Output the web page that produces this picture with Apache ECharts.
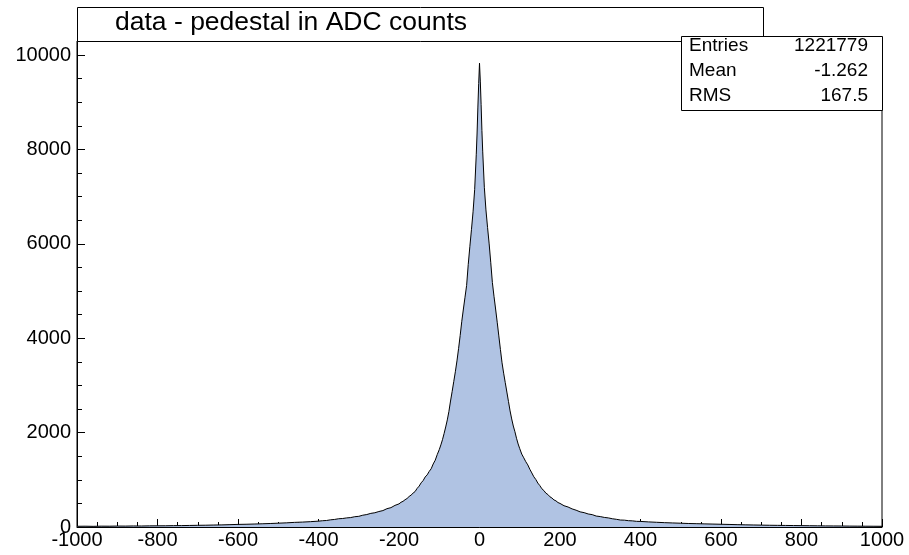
<!DOCTYPE html>
<html>
<head>
  <meta charset="utf-8">
  <title>data - pedestal in ADC counts</title>
  <style>
    html, body { margin: 0; padding: 0; background: #fff; }
    #main { width: 909px; height: 555px; }
  </style>
</head>
<body>
  <div id="main"></div>
  <script src="https://cdn.jsdelivr.net/npm/echarts@6/dist/echarts.min.js"></script>
  <script type="text/javascript">
    // histogram outline: [ADC value, entries]
    const leftTail = [
      [-1000, 15], [-980, 17], [-960, 14], [-940, 18], [-920, 17], [-900, 20], [-880, 19], [-860, 22],
      [-840, 21], [-820, 24], [-800, 25], [-780, 26], [-760, 29], [-740, 30], [-720, 33], [-700, 36],
      [-680, 38], [-660, 42], [-640, 45], [-620, 50], [-600, 55], [-580, 58], [-560, 63], [-540, 68],
      [-520, 74], [-500, 81], [-480, 88], [-460, 98], [-440, 104], [-420, 113]
    ]
    const leftShoulder = [
      [-400, 124], [-390, 133], [-380, 138], [-370, 152], [-360, 160], [-350, 175], [-340, 180],
      [-330, 193], [-320, 200], [-310, 218], [-300, 226], [-290, 250], [-280, 264], [-270, 289],
      [-260, 302], [-250, 328], [-240, 348], [-230, 388], [-220, 410], [-210, 458], [-200, 490],
      [-195, 524], [-190, 544], [-185, 578], [-180, 604], [-175, 646], [-170, 676], [-165, 718],
      [-160, 752], [-155, 818], [-150, 866], [-145, 936], [-140, 984], [-135, 1060], [-130, 1105],
      [-125, 1178], [-120, 1235], [-115, 1336], [-110, 1415], [-105, 1535], [-100, 1640]
    ]
    const core = [
      [-96, 1740], [-92, 1850], [-88, 1980], [-84, 2120], [-80, 2270], [-76, 2450], [-72, 2670],
      [-68, 2870], [-64, 3080], [-60, 3290], [-56, 3520], [-52, 3780], [-48, 4060], [-44, 4360],
      [-40, 4620], [-36, 4870], [-32, 5120], [-28, 5560], [-24, 5940], [-20, 6300], [-16, 6680],
      [-12, 7150], [-8, 7900], [-6, 8350], [-4, 8900], [-2, 9400], [0, 9830],
      [2, 9450], [4, 8950], [6, 8400], [8, 7950], [12, 7200], [16, 6720], [20, 6350], [24, 6000],
      [28, 5600], [32, 5180], [36, 4890], [40, 4620], [44, 4340], [48, 4050], [52, 3760], [56, 3480],
      [60, 3260], [64, 3060], [68, 2860], [72, 2660], [76, 2460], [80, 2290], [84, 2140], [88, 2020],
      [92, 1880], [96, 1760]
    ]
    const rightShoulder = [
      [100, 1660], [105, 1545], [110, 1466], [115, 1384], [120, 1316], [125, 1224], [130, 1146],
      [135, 1064], [140, 1006], [145, 930], [150, 876], [155, 810], [160, 772], [165, 716],
      [170, 688], [175, 640], [180, 614], [185, 574], [190, 554], [195, 518], [200, 500],
      [210, 451], [220, 424], [230, 384], [240, 356], [250, 321], [260, 304], [270, 276],
      [280, 262], [290, 232], [300, 221], [310, 203], [320, 193], [330, 175], [340, 163],
      [350, 148], [360, 145], [370, 134], [380, 130], [390, 120], [400, 118]
    ]
    const rightTail = [
      [420, 108], [440, 100], [460, 92], [480, 86], [500, 80], [520, 74], [540, 70], [560, 66],
      [580, 62], [600, 58], [620, 54], [640, 50], [660, 46], [680, 43], [700, 40], [720, 37],
      [740, 35], [760, 33], [780, 31], [800, 29], [820, 27], [840, 25], [860, 23], [880, 22],
      [900, 21], [920, 19], [940, 18], [960, 17], [980, 16], [1000, 15]
    ]
    const xTicks = [-1000, 1000, 200]
    const yMajor = [0, 2000, 4000, 6000, 8000, 10000]
    const yMinor = [500, 1000, 1500, 2000, 2500, 3000, 3500, 4000, 4500, 5000,
      5500, 6000, 6500, 7000, 7500, 8000, 8500, 9000, 9500, 10000]
    const statNames = ['Entries', 'Mean', 'RMS']
    const statValues = ['1221779', '-1.262', '167.5']
    const titleText = 'data - pedestal in ADC counts'

    const FONT = '"Liberation Sans", Arial, sans-serif'

    let histData = () => {
      return leftTail.concat(leftShoulder, core, rightShoulder, rightTail)
    }

    let plain = (v) => String(v)

    let statsGraphics = () => {
      let items = [{
        type: 'rect',
        z: 100,
        shape: { x: 681.5, y: 36.5, width: 201, height: 74 },
        style: { fill: '#fff', stroke: '#000', lineWidth: 1 }
      }]
      for (var i = 0; i < statNames.length; i++) {
        let y = 45.5 + i * 25
        items.push({
          type: 'text', z: 101,
          style: { text: statNames[i], x: 689, y: y, fill: '#000',
            font: '19px ' + FONT, align: 'left', verticalAlign: 'middle' }
        })
        items.push({
          type: 'text', z: 101,
          style: { text: statValues[i], x: 868, y: y, fill: '#000',
            font: '19px ' + FONT, align: 'right', verticalAlign: 'middle' }
        })
      }
      return items
    }

    const OPTION = {
      animation: false,
      backgroundColor: '#fff',
      grid: {
        left: 77, right: 27, top: 41, bottom: 28,
        show: true, borderColor: '#000', borderWidth: 1
      },
      xAxis: {
        type: 'value',
        min: xTicks[0], max: xTicks[1], interval: xTicks[2],
        axisLine: { onZero: false, lineStyle: { color: '#000', width: 1 } },
        axisTick: { inside: true, length: 8, lineStyle: { color: '#000' } },
        minorTick: { show: true, splitNumber: 4, length: 5, lineStyle: { color: '#000' } },
        axisLabel: { color: '#000', fontSize: 20, fontFamily: FONT, margin: 3, formatter: plain },
        splitLine: { show: false }
      },
      yAxis: [{
        type: 'value',
        position: 'left',
        min: 0, max: 10300,
        axisLine: { show: true, onZero: false, lineStyle: { color: '#000', width: 1 } },
        axisTick: { show: true, inside: true, length: 8, customValues: yMajor, lineStyle: { color: '#000' } },
        axisLabel: { color: '#000', fontSize: 20, fontFamily: FONT, margin: 6,
          customValues: yMajor, formatter: plain },
        splitLine: { show: false }
      }, {
        type: 'value',
        position: 'left',
        min: 0, max: 10300,
        axisLine: { show: false, onZero: false },
        axisTick: { show: true, inside: true, length: 5, customValues: yMinor, lineStyle: { color: '#000' } },
        axisLabel: { show: false },
        splitLine: { show: false }
      }],
      series: [{
        type: 'line',
        data: histData(),
        showSymbol: false,
        symbol: 'none',
        lineStyle: { color: '#000', width: 1, join: 'bevel' },
        areaStyle: { color: '#b0c3e3', opacity: 1 },
        z: 2
      }],
      graphic: [{
        type: 'rect',
        z: 100,
        shape: { x: 77.5, y: 7.5, width: 686, height: 34 },
        style: { fill: '#fff', stroke: '#000', lineWidth: 1 }
      }, {
        type: 'text',
        z: 101,
        style: { text: titleText, x: 115, y: 23, fill: '#000',
          font: '26.5px ' + FONT, align: 'left', verticalAlign: 'middle' }
      }].concat(statsGraphics())
    }

    let drawChart = (option) => {
      let element = document.querySelector('#main')
      var myChart = echarts.init(element)
      myChart.setOption(option)
    }
    drawChart(OPTION)
  </script>
</body>
</html>
